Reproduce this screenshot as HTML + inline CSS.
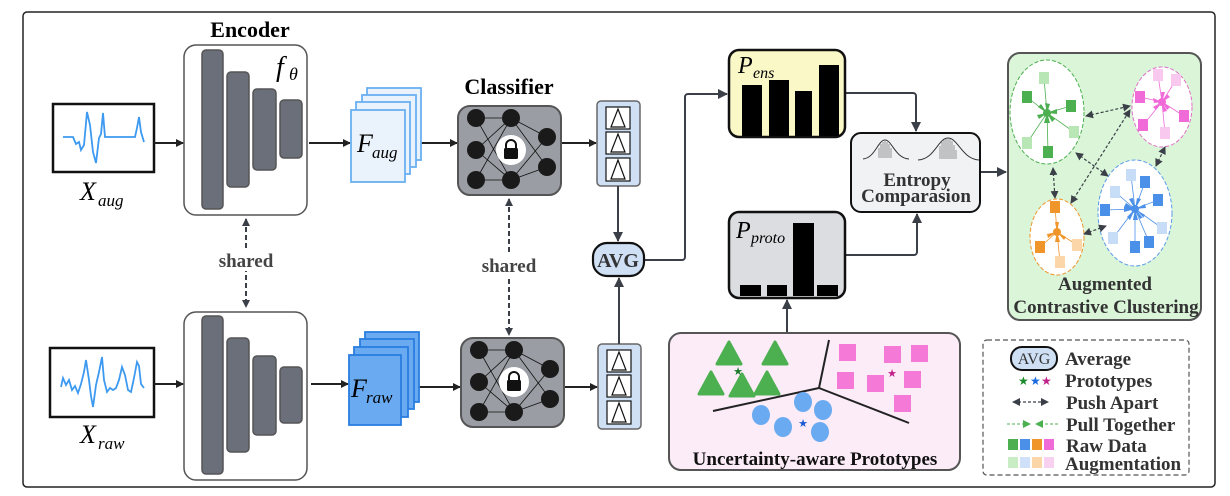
<!DOCTYPE html>
<html><head><meta charset="utf-8"><style>
html,body{margin:0;padding:0;background:#fff;width:1230px;height:496px;overflow:hidden}
svg{display:block}
text{font-family:"Liberation Serif",serif}
.b{font-weight:bold}
</style></head><body>
<svg width="1230" height="496" viewBox="0 0 1230 496" xmlns="http://www.w3.org/2000/svg">
<defs>
<marker id="ah" markerWidth="8" markerHeight="8" refX="7" refY="4" orient="auto" markerUnits="userSpaceOnUse"><path d="M0,0 L8,4 L0,8 z" fill="#222"/></marker>
<marker id="ag" markerWidth="10" markerHeight="10" refX="9" refY="5" orient="auto" markerUnits="userSpaceOnUse"><path d="M0,0 L10,5 L0,10 z" fill="#3b4048"/></marker>
<marker id="as" markerWidth="8" markerHeight="8" refX="7" refY="4" orient="auto-start-reverse" markerUnits="userSpaceOnUse"><path d="M0,0 L8,4 L0,8 z" fill="#3b4048"/></marker>
<marker id="ap" markerWidth="8" markerHeight="8" refX="7" refY="4" orient="auto" markerUnits="userSpaceOnUse"><path d="M0,0 L8,4 L0,8 z" fill="#4caf50"/></marker>
</defs>
<rect x="23" y="12" width="1192" height="475" rx="4" fill="#fff" stroke="#222" stroke-width="1.5"/>

<!-- Encoder -->
<text x="250" y="37" font-size="22" class="b" text-anchor="middle">Encoder</text>
<g stroke="#555" stroke-width="1.5">
<rect x="184" y="45" width="123" height="170" rx="12" fill="#fff"/>
<rect x="202" y="50" width="21" height="159" rx="4" fill="#6b6f7a"/>
<rect x="227" y="72" width="22" height="115" rx="4" fill="#6b6f7a"/>
<rect x="253" y="89" width="23" height="81" rx="4" fill="#6b6f7a"/>
<rect x="280" y="100" width="22" height="58" rx="4" fill="#6b6f7a"/>
<rect x="184" y="312" width="123" height="168" rx="12" fill="#fff"/>
<rect x="202" y="316" width="21" height="158" rx="4" fill="#6b6f7a"/>
<rect x="227" y="338" width="22" height="114" rx="4" fill="#6b6f7a"/>
<rect x="253" y="356" width="23" height="79" rx="4" fill="#6b6f7a"/>
<rect x="280" y="367" width="22" height="56" rx="4" fill="#6b6f7a"/>
</g>
<text x="276" y="76" font-size="28" font-style="italic">f</text><text x="289" y="80" font-size="18" font-style="italic">θ</text>

<!-- signals -->
<rect x="53" y="104" width="101" height="68" fill="#fff" stroke="#111" stroke-width="2.5"/>
<polyline fill="none" stroke="#3d9af0" stroke-width="1.8" points="63,137 73,137 76,144 79,142 81,150 84,145 87,112 90,125 93,152 96,163 99,138 101,134 103,113 105,137 135,137 137,128 139,117 141,132 144,142"/>
<text x="80" y="200" font-size="26" font-style="italic">X</text><text x="98" y="206" font-size="17" font-style="italic">aug</text>
<rect x="50" y="348" width="104" height="69" fill="#fff" stroke="#111" stroke-width="2.5"/>
<polyline fill="none" stroke="#3d9af0" stroke-width="1.8" points="61,387 63,378 66,385 69,380 72,390 75,386 78,393 81,384 84,372 86,360 89,380 91,396 93,407 96,385 99,372 102,357 104,380 107,392 110,388 113,390 116,388 119,380 122,367 125,375 128,390 131,392 134,378 137,362 139,366 141,384 144,388"/>
<text x="80" y="443" font-size="26" font-style="italic">X</text><text x="98" y="449" font-size="17" font-style="italic">raw</text>

<!-- main arrows -->
<g stroke="#222" stroke-width="2" marker-end="url(#ah)">
<line x1="154" y1="143" x2="183" y2="143"/>
<line x1="309" y1="143" x2="350" y2="143"/>
<line x1="421" y1="143" x2="457" y2="143"/>
<line x1="562" y1="143" x2="596" y2="143"/>
<line x1="154" y1="384" x2="183" y2="384"/>
<line x1="311" y1="384" x2="348" y2="384"/>
<line x1="419" y1="387" x2="460" y2="387"/>
<line x1="564" y1="387" x2="597" y2="387"/>
</g>

<!-- F_aug -->
<g fill="#eaf3fc" stroke="#6ab0f0" stroke-width="1.8">
<rect x="367" y="88" width="54" height="72"/>
<rect x="362" y="95" width="54" height="72"/>
<rect x="356" y="102" width="54" height="72"/>
<rect x="351" y="110" width="54" height="72"/>
</g>
<text x="357" y="152" font-size="26" font-style="italic">F</text><text x="372" y="158" font-size="17" font-style="italic">aug</text>
<g fill="#6aaaf0" stroke="#2a7ee0" stroke-width="1.8">
<rect x="365" y="332" width="54" height="70"/>
<rect x="360" y="339" width="54" height="70"/>
<rect x="354" y="347" width="54" height="70"/>
<rect x="349" y="355" width="52" height="70"/>
</g>
<text x="351" y="397" font-size="26" font-style="italic">F</text><text x="366" y="403" font-size="17" font-style="italic">raw</text>

<!-- Classifiers -->
<text x="509" y="94" font-size="22" class="b" text-anchor="middle">Classifier</text>
<g id="cls">
<rect x="458" y="106" width="103" height="89" rx="12" fill="#9a9da3" stroke="#555" stroke-width="2"/>
<g stroke="#111" stroke-width="0.8">
<line x1="476" y1="118" x2="511" y2="118"/><line x1="476" y1="118" x2="511" y2="180"/><line x1="476" y1="150" x2="511" y2="118"/><line x1="476" y1="150" x2="511" y2="180"/><line x1="476" y1="180" x2="511" y2="118"/><line x1="476" y1="180" x2="511" y2="180"/>
<line x1="511" y1="118" x2="547" y2="137"/><line x1="511" y1="118" x2="547" y2="167"/><line x1="511" y1="180" x2="547" y2="137"/><line x1="511" y1="180" x2="547" y2="167"/>
</g>
<g fill="#1a1a1a"><circle cx="476" cy="118" r="9"/><circle cx="476" cy="150" r="9"/><circle cx="476" cy="180" r="9"/><circle cx="511" cy="118" r="9"/><circle cx="511" cy="180" r="9"/><circle cx="547" cy="137" r="9"/><circle cx="547" cy="167" r="9"/></g>
<circle cx="511" cy="150" r="15" fill="#fff"/>
<path d="M506,149 v-4 a5,5 0 0 1 10,0 v4" fill="none" stroke="#111" stroke-width="2"/>
<rect x="504" y="148" width="14" height="11" rx="1.5" fill="#111"/>
</g>
<use href="#cls" transform="translate(3,232)"/>

<!-- shared -->
<g stroke="#3b4048" stroke-width="2" stroke-dasharray="5,3" marker-start="url(#as)" marker-end="url(#as)">
<line x1="246" y1="219" x2="246" y2="307"/>
<line x1="509" y1="199" x2="509" y2="335"/>
</g>
<rect x="214" y="249" width="64" height="22" fill="#fff"/>
<text x="246" y="267" font-size="19" class="b" fill="#444" text-anchor="middle">shared</text>
<rect x="477" y="254" width="64" height="22" fill="#fff"/>
<text x="509" y="272" font-size="19" class="b" fill="#444" text-anchor="middle">shared</text>

<!-- output boxes -->
<g id="ob">
<rect x="597" y="101" width="43" height="85" rx="4" fill="#cfe0f5" stroke="#666" stroke-width="1.5"/>
<g fill="#fff" stroke="#111" stroke-width="1.2">
<rect x="606" y="107" width="24" height="22"/><rect x="606" y="132" width="24" height="22"/><rect x="606" y="158" width="24" height="23"/>
<path d="M611,127 L618,109 L625,127 z M611,152 L618,134 L625,152 z M611,179 L618,160 L625,179 z" fill="none"/>
</g>
</g>
<use href="#ob" transform="translate(1,243)"/>
<g stroke="#3b4048" stroke-width="2" fill="none">
<line x1="618" y1="186" x2="618" y2="241" marker-end="url(#ag)"/>
<line x1="619" y1="344" x2="619" y2="278" marker-end="url(#ag)"/>
<path d="M644,260 H682 a3,3 0 0 0 3,-3 V97 a3,3 0 0 1 3,-3 H727" marker-end="url(#ag)"/>
<path d="M845,93 H913 a3,3 0 0 1 3,3 V131" marker-end="url(#ag)"/>
<path d="M845,255 H914 a3,3 0 0 0 3,-3 V214" marker-end="url(#ag)"/>
<line x1="980" y1="172" x2="1006" y2="172" marker-end="url(#ag)"/>
<line x1="787" y1="333" x2="787" y2="300" marker-end="url(#ag)"/>
</g>
<rect x="593" y="243" width="51" height="33" rx="14" fill="#cfe0f5" stroke="#111" stroke-width="2.2"/>
<text x="618" y="267" font-size="20" class="b" fill="#333" text-anchor="middle">AVG</text>

<!-- P_ens -->
<rect x="729" y="50" width="116" height="87" rx="10" fill="#fbf8c8" stroke="#111" stroke-width="2.5"/>
<g fill="#000"><rect x="742" y="85" width="20" height="51"/><rect x="769" y="80" width="20" height="56"/><rect x="795" y="91" width="17" height="45"/><rect x="819" y="65" width="20" height="71"/></g>
<text x="738" y="73" font-size="24" font-style="italic">P</text><text x="753" y="78" font-size="16" font-style="italic">ens</text>
<!-- P_proto -->
<rect x="729" y="212" width="116" height="86" rx="10" fill="#dcdde0" stroke="#111" stroke-width="2.5"/>
<g fill="#000"><rect x="740" y="285" width="21" height="11"/><rect x="767" y="285" width="20" height="11"/><rect x="793" y="223" width="21" height="73"/><rect x="817" y="285" width="21" height="11"/></g>
<text x="736" y="238" font-size="24" font-style="italic">P</text><text x="751" y="243" font-size="16" font-style="italic">proto</text>

<!-- Entropy -->
<rect x="851" y="133" width="129" height="79" rx="10" fill="#f1f2f4" stroke="#111" stroke-width="2"/>
<g stroke="#555" stroke-width="0.6">
<path d="M879,158v-10 M881,158v-14 M883,158v-16 M885,158v-17 M887,158v-16 M889,158v-14 M891,158v-10 M940,159v-13 M942,159v-17 M944,159v-19 M946,159v-20 M948,159v-20 M950,159v-20 M952,159v-18 M954,159v-14 M956,159v-9"/>
</g>
<g fill="none" stroke="#333" stroke-width="1">
<path d="M863,159 C875,158 878,140 885,140 C892,140 895,158 909,159"/>
<path d="M918,160 C935,159 938,138 948,138 C958,138 962,159 979,160"/>
</g>
<text x="917" y="186" font-size="19" class="b" fill="#333" text-anchor="middle">Entropy</text>
<text x="916" y="202" font-size="19" class="b" fill="#333" text-anchor="middle">Comparasion</text>

<!-- Cluster box -->
<rect x="1008" y="53" width="193" height="267" rx="12" fill="#daf5d8" stroke="#555" stroke-width="2"/>
<g stroke-dasharray="4,2" stroke-width="1">
<ellipse cx="1047" cy="112" rx="37" ry="52" fill="#fff" stroke="#4caf50"/>
<ellipse cx="1162" cy="107" rx="30" ry="40" fill="#fff" stroke="#e070c8"/>
<ellipse cx="1135" cy="213" rx="37" ry="53" fill="#fff" stroke="#5a9ae8"/>
<ellipse cx="1057" cy="237" rx="27" ry="38" fill="#fff" stroke="#f0952a"/>
</g>
<g stroke="#4caf50" stroke-width="0.8">
<line x1="1047" y1="113" x2="1027" y2="97"/><line x1="1047" y1="113" x2="1071" y2="106"/><line x1="1047" y1="113" x2="1048" y2="152"/><line x1="1047" y1="113" x2="1044" y2="78"/><line x1="1047" y1="113" x2="1074" y2="132"/><line x1="1047" y1="113" x2="1027" y2="143"/>
</g>
<g fill="#4caf50"><circle cx="1047" cy="113" r="4"/><path d="M1047,113 l-9,-6 l3,-3z M1047,113 l10,-4 l0,5z M1047,113 l-3,10 l6,0z M1047,113 l-2,-10 l5,1z M1047,113 l8,6 l-3,3z M1047,113 l-8,6 l-2,-4z"/>
<rect x="1022" y="91" width="10" height="12"/><rect x="1066" y="100" width="10" height="12"/><rect x="1043" y="146" width="10" height="12"/></g>
<g fill="#b9e6b5"><rect x="1039" y="72" width="10" height="12"/><rect x="1069" y="126" width="10" height="12"/><rect x="1022" y="137" width="10" height="12"/></g>
<g stroke="#f06ad8" stroke-width="0.8"><line x1="1162" y1="102" x2="1140" y2="97"/><line x1="1162" y1="102" x2="1184" y2="116"/><line x1="1162" y1="102" x2="1143" y2="125"/><line x1="1162" y1="102" x2="1158" y2="75"/><line x1="1162" y1="102" x2="1176" y2="80"/><line x1="1162" y1="102" x2="1165" y2="133"/></g>
<g fill="#f06ad8"><circle cx="1162" cy="102" r="4"/><path d="M1162,102 l-9,-4 l1,5z M1162,102 l8,5 l-3,3z M1162,102 l-6,8 l-3,-3z M1162,102 l-1,-10 l4,0z M1162,102 l5,-8 l3,3z M1162,102 l1,10 l4,-1z"/>
<rect x="1135" y="91" width="10" height="12"/><rect x="1179" y="110" width="10" height="12"/><rect x="1138" y="119" width="10" height="12"/></g>
<g fill="#f8c8ef"><rect x="1153" y="69" width="10" height="12"/><rect x="1171" y="74" width="10" height="12"/><rect x="1160" y="127" width="10" height="12"/></g>
<g stroke="#4a90e8" stroke-width="0.8"><line x1="1135" y1="209" x2="1145" y2="182"/><line x1="1135" y1="209" x2="1158" y2="200"/><line x1="1135" y1="209" x2="1105" y2="210"/><line x1="1135" y1="209" x2="1135" y2="247"/><line x1="1135" y1="209" x2="1149" y2="242"/><line x1="1135" y1="209" x2="1131" y2="175"/><line x1="1135" y1="209" x2="1115" y2="192"/><line x1="1135" y1="209" x2="1162" y2="228"/><line x1="1135" y1="209" x2="1113" y2="238"/></g>
<g fill="#4a90e8"><circle cx="1135" cy="209" r="4"/><path d="M1135,209 l2,-11 l4,1z M1135,209 l10,-5 l1,4z M1135,209 l-11,-2 l0,5z M1135,209 l-2,11 l5,0z M1135,209 l5,10 l3,-2z M1135,209 l-2,-11 l-4,1z M1135,209 l-9,-6 l-2,4z M1135,209 l10,6 l-2,3z M1135,209 l-8,8 l3,3z"/>
<rect x="1140" y="176" width="10" height="12"/><rect x="1153" y="194" width="10" height="12"/><rect x="1100" y="204" width="10" height="12"/><rect x="1130" y="241" width="10" height="12"/><rect x="1144" y="236" width="10" height="12"/></g>
<g fill="#c6dcf7"><rect x="1126" y="169" width="10" height="12"/><rect x="1110" y="186" width="10" height="12"/><rect x="1157" y="222" width="10" height="12"/><rect x="1108" y="232" width="10" height="12"/></g>
<g stroke="#f0952a" stroke-width="0.8"><line x1="1057" y1="232" x2="1055" y2="207"/><line x1="1057" y1="232" x2="1040" y2="247"/><line x1="1057" y1="232" x2="1077" y2="245"/><line x1="1057" y1="232" x2="1060" y2="262"/></g>
<g fill="#f0952a"><circle cx="1057" cy="232" r="4"/><path d="M1057,232 l-2,-10 l4,0z M1057,232 l-9,6 l-1,-4z M1057,232 l9,5 l-2,3z M1057,232 l-2,10 l5,0z"/>
<rect x="1050" y="201" width="10" height="12"/><rect x="1035" y="241" width="10" height="12"/></g>
<g fill="#fbd6a8"><rect x="1072" y="239" width="10" height="12"/><rect x="1055" y="256" width="10" height="12"/></g>
<g stroke="#3b4048" stroke-width="1.2" stroke-dasharray="3,2" marker-start="url(#as)" marker-end="url(#as)">
<line x1="1086" y1="116" x2="1130" y2="106"/>
<line x1="1076" y1="153" x2="1108" y2="176"/>
<line x1="1053" y1="168" x2="1055" y2="198"/>
<line x1="1071" y1="203" x2="1130" y2="110"/>
<line x1="1084" y1="234" x2="1106" y2="226"/>
<line x1="1156" y1="166" x2="1165" y2="147"/>
</g>
<text x="1105" y="290" font-size="19" class="b" fill="#333" text-anchor="middle">Augmented</text>
<text x="1106" y="313" font-size="19" class="b" fill="#333" text-anchor="middle">Contrastive Clustering</text>

<!-- Uncertainty -->
<rect x="669" y="333" width="291" height="137" rx="12" fill="#fcecf8" stroke="#555" stroke-width="2"/>
<g stroke="#222" stroke-width="2" fill="none"><polyline points="713,411 819,388 829,340"/><line x1="819" y1="388" x2="909" y2="423"/></g>
<g fill="#4caf50" stroke="#4caf50" stroke-width="3" stroke-linejoin="round">
<path d="M729,342 L741,364 L717,364z"/><path d="M775,342 L787,364 L763,364z"/><path d="M711,372 L723,394 L699,394z"/><path d="M742,374 L754,396 L730,396z"/><path d="M767,372 L779,394 L755,394z"/>
</g>
<g fill="#f57ad8"><rect x="839" y="344" width="17" height="17"/><rect x="884" y="346" width="17" height="17"/><rect x="911" y="345" width="17" height="17"/><rect x="837" y="372" width="17" height="17"/><rect x="867" y="375" width="17" height="17"/><rect x="904" y="371" width="17" height="17"/><rect x="894" y="395" width="17" height="17"/></g>
<g fill="#6aaaf0"><ellipse cx="803" cy="402" rx="9" ry="10"/><ellipse cx="823" cy="410" rx="9" ry="10"/><ellipse cx="761" cy="415" rx="9" ry="10"/><ellipse cx="783" cy="427" rx="9" ry="10"/><ellipse cx="820" cy="432" rx="9" ry="10"/></g>
<text x="738" y="375" font-size="11" fill="#1a7a2a" text-anchor="middle">★</text>
<text x="892" y="377" font-size="11" fill="#c0208a" text-anchor="middle">★</text>
<text x="803" y="427" font-size="11" fill="#1a5ad0" text-anchor="middle">★</text>
<text x="815" y="465" font-size="19" class="b" fill="#111" text-anchor="middle">Uncertainty-aware Prototypes</text>

<!-- Legend -->
<rect x="983" y="340" width="206" height="135" rx="4" fill="#fff" stroke="#555" stroke-width="1.2" stroke-dasharray="5,3"/>
<rect x="1011" y="347" width="46" height="23" rx="11" fill="#cfe0f5" stroke="#111" stroke-width="2"/>
<text x="1034" y="364" font-size="16" fill="#333" text-anchor="middle">AVG</text>
<g font-size="19" class="b" fill="#333">
<text x="1065" y="365">Average</text>
<text x="1065" y="387">Prototypes</text>
<text x="1066" y="409">Push Apart</text>
<text x="1066" y="431">Pull Together</text>
<text x="1066" y="452">Raw Data</text>
<text x="1065" y="470">Augmentation</text>
</g>
<text x="1018" y="385" font-size="12" fill="#1a8a2a">★</text><text x="1030" y="385" font-size="12" fill="#1a6ae0">★</text><text x="1041" y="385" font-size="12" fill="#c0208a">★</text>
<line x1="1013" y1="402" x2="1048" y2="402" stroke="#3b4048" stroke-width="1.2" stroke-dasharray="3,2" marker-start="url(#as)" marker-end="url(#as)"/>
<g stroke="#4caf50" stroke-width="1" stroke-dasharray="3,2"><line x1="1007" y1="424" x2="1030" y2="424" marker-end="url(#ap)"/><line x1="1058" y1="424" x2="1036" y2="424" marker-end="url(#ap)"/></g>
<g><rect x="1008" y="439" width="10" height="11" fill="#4caf50"/><rect x="1020" y="439" width="10" height="11" fill="#4a90e8"/><rect x="1032" y="439" width="10" height="11" fill="#f0952a"/><rect x="1044" y="439" width="10" height="11" fill="#f06ad8"/>
<rect x="1008" y="457" width="10" height="11" fill="#c8ecc4"/><rect x="1020" y="457" width="10" height="11" fill="#cfe0f8"/><rect x="1032" y="457" width="10" height="11" fill="#fbd6a8"/><rect x="1044" y="457" width="10" height="11" fill="#f8d0f0"/></g>
</svg>
</body></html>
